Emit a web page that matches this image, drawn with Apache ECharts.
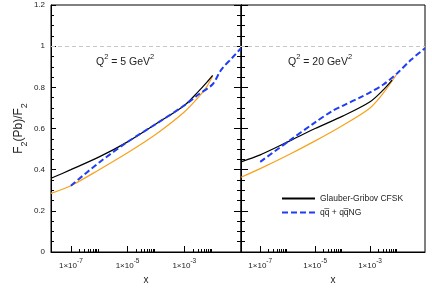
<!DOCTYPE html>
<html>
<head>
<meta charset="utf-8">
<script src="https://cdn.jsdelivr.net/npm/echarts@6/dist/echarts.min.js"></script>
<style>html,body{margin:0;padding:0;background:#fff}#c{width:432px;height:303px}</style>
</head>
<body>
<div id="c"></div>
<script>
// x values are given as log10(x)
const leftBlackLogX  = [-7.7, -7, -6, -5, -4, -3, -2.5, -2.2, -2.0];
const leftBlack      = [0.358, 0.40, 0.462, 0.535, 0.622, 0.712, 0.78, 0.825, 0.858];
const leftOrangeLogX = [-7.7, -7, -6, -5, -4, -3, -2.5, -2.2, -2.0];
const leftOrange     = [0.285, 0.322, 0.40, 0.482, 0.572, 0.68, 0.752, 0.805, 0.855];
const leftBlueLogX   = [-7, -6, -5, -4, -3, -2.5, -2, -1.7, -1.3, -1];
const leftBlue       = [0.322, 0.435, 0.535, 0.622, 0.712, 0.765, 0.815, 0.885, 0.945, 0.99];

const rightBlackLogX  = [-7.7, -7, -6, -5, -4, -3, -2.5, -2.2];
const rightBlack      = [0.438, 0.472, 0.535, 0.60, 0.66, 0.73, 0.79, 0.835];
const rightOrangeLogX = [-7.7, -7, -6, -5, -4, -3, -2.5, -2.05];
const rightOrange     = [0.363, 0.405, 0.47, 0.54, 0.615, 0.70, 0.775, 0.86];
const rightBlueLogX   = [-7, -6, -5, -4.4, -4, -3.3, -3, -2.5, -2, -1.5, -1];
const rightBlue       = [0.438, 0.535, 0.63, 0.683, 0.71, 0.755, 0.775, 0.815, 0.87, 0.935, 0.99];

const majorTickLogX = [-7, -5, -3];
const minorMultipliers = [2, 3, 4, 5, 6, 7, 8, 9];
const panelLabels = ['5', '20'];
const seriesNames = ['Glauber-Gribov CFSK', 'qq\u0305 + qq\u0305NG'];

const zip = (xs, ys) => xs.map((x, i) => [x, ys[i]]);
const minorTickLogX = [];
majorTickLogX.forEach(e => minorMultipliers.forEach(m => minorTickLogX.push(e + Math.log10(m))));

const FONT = 'Liberation Sans';
const BLACK = '#000';
const ORANGE = '#f7a21b';
const BLUE = '#1f3df5';

function xMain(g) {
  return {
    type: 'value', gridIndex: g, min: -7.7, max: -1,
    axisLine: { show: true, lineStyle: { color: BLACK, width: 1 } },
    axisTick: { show: true, inside: true, length: 6, customValues: majorTickLogX, lineStyle: { color: BLACK } },
    axisLabel: {
      customValues: majorTickLogX, margin: 6,
      formatter: v => '{n|1\u00d710}{s|-' + Math.round(Math.abs(v)) + '}',
      rich: {
        n: { fontFamily: FONT, fontSize: 8, color: '#222', verticalAlign: 'bottom', lineHeight: 12 },
        s: { fontFamily: FONT, fontSize: 6.5, color: '#222', verticalAlign: 'top', lineHeight: 12 }
      }
    },
    splitLine: { show: false },
    name: 'x', nameLocation: 'middle', nameGap: 14,
    nameTextStyle: { fontFamily: FONT, fontSize: 10, color: '#222' }
  };
}
function xMinor(g) {
  return {
    type: 'value', gridIndex: g, min: -7.7, max: -1, position: 'bottom',
    axisLine: { show: false },
    axisTick: { show: true, inside: true, length: 3, customValues: minorTickLogX, lineStyle: { color: BLACK } },
    axisLabel: { show: false },
    splitLine: { show: false }
  };
}
function yAx(g, pos, len, labels) {
  const a = {
    type: 'value', gridIndex: g, position: pos, min: 0, max: 1.2, interval: 0.2,
    axisLine: { show: true, lineStyle: { color: BLACK, width: 1 } },
    axisTick: { show: true, inside: true, length: len, lineStyle: { color: BLACK } },
    minorTick: { show: true, splitNumber: 4, length: Math.round(len * 0.6), lineStyle: { color: BLACK } },
    axisLabel: { show: labels, fontFamily: FONT, fontSize: 8, color: '#222', margin: 6 },
    splitLine: { show: false }
  };
  if (labels) {
    a.name = '{n|F}{s|2}{n|(Pb)/F}{s|2}';
    a.nameLocation = 'middle';
    a.nameGap = 22;
    a.nameTextStyle = {
      rich: {
        n: { fontFamily: FONT, fontSize: 12, color: '#222', verticalAlign: 'top', lineHeight: 16 },
        s: { fontFamily: FONT, fontSize: 9, color: '#222', verticalAlign: 'bottom', lineHeight: 16 }
      }
    };
  }
  return a;
}

const refLine = {
  silent: true, symbol: 'none', label: { show: false },
  lineStyle: { color: '#c8c8c8', type: [4, 3], width: 1 },
  data: [{ yAxis: 1 }]
};

function lineSeries(name, xi, yi, data, color, width, dash, mark) {
  const s = {
    type: 'line', name: name, xAxisIndex: xi, yAxisIndex: yi, data: data,
    smooth: 0.3, symbol: 'none', showSymbol: false,
    lineStyle: { color: color, width: width, type: dash || 'solid' },
    itemStyle: { color: color }, z: dash ? 3 : 2
  };
  if (mark) s.markLine = refLine;
  return s;
}

const qRich = {
  n: { fontFamily: FONT, fontSize: 10.5, fill: '#222', verticalAlign: 'bottom', lineHeight: 15 },
  s: { fontFamily: FONT, fontSize: 7.5, fill: '#222', verticalAlign: 'top', lineHeight: 15 }
};

const chart = echarts.init(document.getElementById('c'), null, { renderer: 'canvas' });
chart.setOption({
  animation: false,
  grid: [
    { left: 51, right: 191, top: 5, bottom: 51, show: true, borderColor: BLACK, borderWidth: 1 },
    { left: 241, right: 7, top: 5, bottom: 51, show: true, borderColor: BLACK, borderWidth: 1 }
  ],
  xAxis: [xMain(0), xMinor(0), xMain(1), xMinor(1)],
  yAxis: [yAx(0, 'left', 5, true), yAx(0, 'right', 7, false), yAx(1, 'left', 7, false)],
  legend: {
    left: 276, top: 189, orient: 'vertical', itemWidth: 33, itemHeight: 8, itemGap: 5,
    data: seriesNames,
    itemStyle: { opacity: 0 },
    textStyle: { fontFamily: FONT, fontSize: 8.5, color: '#222' }
  },
  graphic: [
    { type: 'text', left: 96, top: 53, style: { rich: qRich, text: '{n|Q}{s|2}{n| = ' + panelLabels[0] + ' GeV}{s|2}' } },
    { type: 'text', left: 288, top: 53, style: { rich: qRich, text: '{n|Q}{s|2}{n| = ' + panelLabels[1] + ' GeV}{s|2}' } }
  ],
  series: [
    lineSeries('', 0, 0, zip(leftOrangeLogX, leftOrange), ORANGE, 1.2, null, true),
    lineSeries(seriesNames[0], 0, 0, zip(leftBlackLogX, leftBlack), BLACK, 1.2),
    lineSeries(seriesNames[1], 0, 0, zip(leftBlueLogX, leftBlue), BLUE, 2, [6, 3]),
    lineSeries('', 2, 2, zip(rightOrangeLogX, rightOrange), ORANGE, 1.2, null, true),
    lineSeries(seriesNames[0], 2, 2, zip(rightBlackLogX, rightBlack), BLACK, 1.2),
    lineSeries(seriesNames[1], 2, 2, zip(rightBlueLogX, rightBlue), BLUE, 2, [6, 3])
  ]
});
</script>
</body>
</html>
